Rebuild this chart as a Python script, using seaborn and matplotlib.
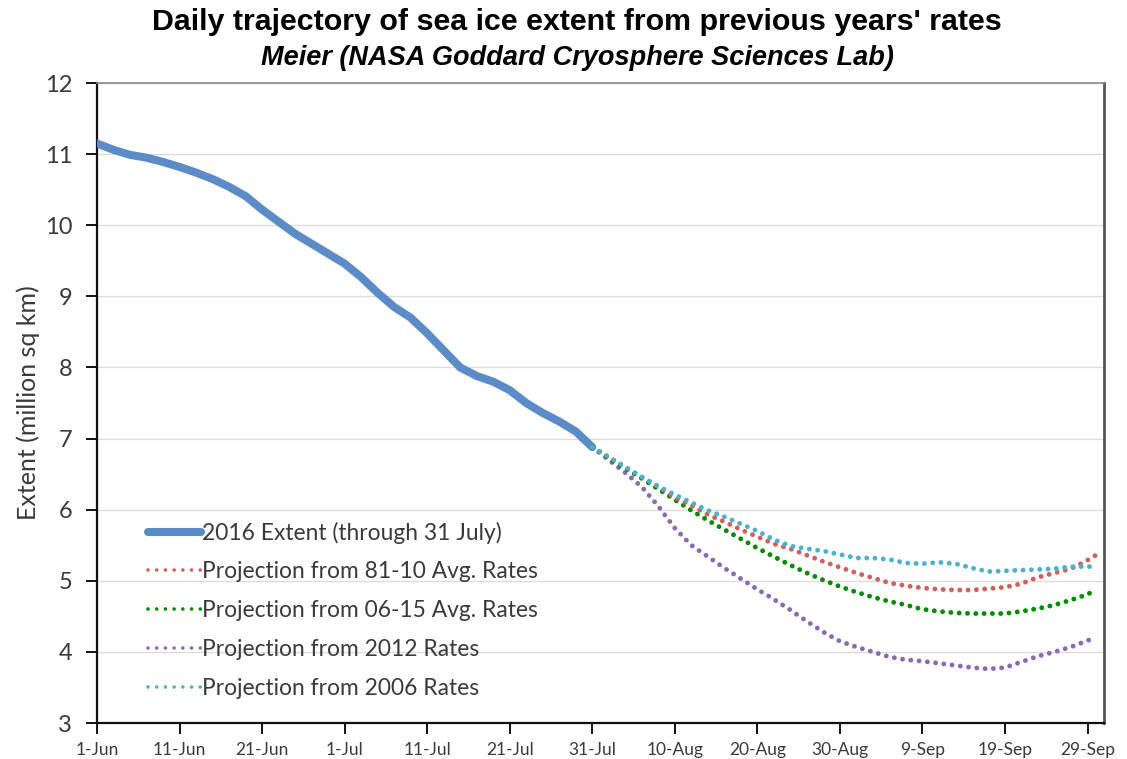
import matplotlib
matplotlib.use("Agg")
import matplotlib.pyplot as plt
from matplotlib.lines import Line2D
import seaborn as sns
import pandas as pd

# Day offsets counted from 1 June 2016
obs_days = [0, 2, 4, 6, 8, 10, 12, 14, 16, 18, 20, 22, 24, 26, 28, 30,
            32, 34, 36, 38, 40, 42, 44, 46, 48, 50, 52, 54, 56, 58, 60]
extent_2016 = [11.15, 11.06, 10.99, 10.95, 10.89, 10.82, 10.74, 10.65, 10.54, 10.41,
               10.22, 10.05, 9.88, 9.74, 9.60, 9.46, 9.27, 9.05, 8.85, 8.70,
               8.48, 8.24, 8.00, 7.88, 7.80, 7.68, 7.50, 7.36, 7.24, 7.10, 6.88]

proj_days = [60, 62, 64, 66, 68, 70, 72, 74, 76, 78, 80, 82, 84, 86, 88, 90,
             92, 94, 96, 98, 100, 102, 104, 106, 108, 110, 112, 114, 116, 118, 120, 121]
proj_8110 = [6.88, 6.74, 6.60, 6.46, 6.32, 6.17, 6.06, 5.93, 5.83, 5.72, 5.62, 5.52,
             5.45, 5.36, 5.27, 5.19, 5.11, 5.04, 4.97, 4.93, 4.90, 4.88, 4.87, 4.87,
             4.89, 4.91, 4.96, 5.05, 5.11, 5.17, 5.29, 5.36]
proj_0615 = [6.88, 6.72, 6.58, 6.44, 6.29, 6.14, 5.99, 5.85, 5.72, 5.59, 5.46, 5.34,
             5.22, 5.11, 5.01, 4.92, 4.84, 4.77, 4.71, 4.66, 4.60, 4.57, 4.55, 4.54,
             4.54, 4.54, 4.57, 4.61, 4.66, 4.73, 4.81, 4.87]
proj_2012 = [6.88, 6.70, 6.52, 6.32, 6.05, 5.74, 5.50, 5.34, 5.18, 5.03, 4.88, 4.74,
             4.59, 4.43, 4.28, 4.15, 4.07, 4.00, 3.93, 3.89, 3.87, 3.84, 3.81, 3.78,
             3.76, 3.78, 3.86, 3.94, 4.00, 4.07, 4.16, 4.20]
proj_2006 = [6.88, 6.74, 6.60, 6.46, 6.33, 6.21, 6.10, 5.99, 5.90, 5.80, 5.70, 5.58,
             5.49, 5.45, 5.42, 5.37, 5.32, 5.32, 5.30, 5.25, 5.24, 5.26, 5.24, 5.18,
             5.13, 5.14, 5.15, 5.16, 5.17, 5.20, 5.20, 5.20]

tick_days = [0, 10, 20, 30, 40, 50, 60, 70, 80, 90, 100, 110, 120]
tick_labels = ["1-Jun", "11-Jun", "21-Jun", "1-Jul", "11-Jul", "21-Jul", "31-Jul",
               "10-Aug", "20-Aug", "30-Aug", "9-Sep", "19-Sep", "29-Sep"]

labels = ["2016 Extent (through 31 July)",
          "Projection from 81-10 Avg. Rates",
          "Projection from 06-15 Avg. Rates",
          "Projection from 2012 Rates",
          "Projection from 2006 Rates"]
colors = {"obs": "#5b8cc7", "8110": "#d0605b", "0615": "#008a00",
          "2012": "#8a6bb0", "2006": "#4bb2cc"}

sns.set_theme(style="white")
plt.rcParams["font.family"] = ["Liberation Sans", "DejaVu Sans"]
BODY = ["Lato", "DejaVu Sans"]
TEXT_COLOR = "#3a3a3a"

fig = plt.figure(figsize=(11.27, 7.59), dpi=100)
ax = fig.add_axes([0.0861, 0.0474, 0.8935, 0.8432])

LW_DOT = 3.5
DOT = (0, (0.01, 1.7))

df_obs = pd.DataFrame({"day": obs_days, "extent": extent_2016})
sns.lineplot(data=df_obs, x="day", y="extent", ax=ax, color=colors["obs"],
             linewidth=5.8, solid_capstyle="round", solid_joinstyle="round", zorder=3)

proj = [("2012", proj_2012), ("0615", proj_0615), ("8110", proj_8110), ("2006", proj_2006)]
for i, (key, vals) in enumerate(proj):
    d = pd.DataFrame({"day": proj_days, "extent": vals})
    sns.lineplot(data=d, x="day", y="extent", ax=ax, color=colors[key],
                 linewidth=LW_DOT, linestyle=DOT, dash_capstyle="round",
                 zorder=4 + i)

ax.set_xlim(0, 122)
ax.set_ylim(3, 12)
ax.set_yticks(range(3, 13))
ax.set_xticks(tick_days)
ax.set_xticklabels(tick_labels)
ax.grid(axis="y", color="#dcdcdc", linewidth=1.0)
ax.set_axisbelow(True)

for side in ("left", "bottom"):
    ax.spines[side].set_color("#111111")
    ax.spines[side].set_linewidth(1.6)
ax.spines["right"].set_color("#555555")
ax.spines["right"].set_linewidth(2.0)
ax.spines["top"].set_color("#8a8a8a")
ax.spines["top"].set_linewidth(1.2)

ax.tick_params(axis="both", direction="out", length=8, width=1.4, color="#111111",
               left=True, bottom=True)
ax.tick_params(axis="y", labelsize=17, labelcolor=TEXT_COLOR, pad=10)
ax.tick_params(axis="x", labelsize=12.5, labelcolor=TEXT_COLOR, pad=6)
for lab in ax.get_xticklabels() + ax.get_yticklabels():
    lab.set_family(BODY)

ax.set_xlabel("")
ax.set_ylabel("Extent (million sq km)", fontsize=18, color=TEXT_COLOR,
              family=BODY, labelpad=3)

fig.text(0.512, 0.971, "Daily trajectory of sea ice extent from previous years' rates",
         ha="center", va="center", fontsize=21.9, fontweight="bold", color="#000000")
fig.text(0.512, 0.924, "Meier (NASA Goddard Cryosphere Sciences Lab)",
         ha="center", va="center", fontsize=19.5, fontweight="bold",
         fontstyle="italic", color="#000000")

handles = [Line2D([], [], color=colors["obs"], linewidth=5.8, solid_capstyle="round")]
for key in ("8110", "0615", "2012", "2006"):
    handles.append(Line2D([], [], color=colors[key], linewidth=2.6,
                          linestyle=(0, (0.01, 2.4)), dash_capstyle="round"))
leg = ax.legend(handles, labels, loc="upper left", bbox_to_anchor=(0.051, 0.315),
                frameon=False, handlelength=2.3, handletextpad=0.05,
                labelspacing=0.78, borderaxespad=0, borderpad=0,
                prop={"family": BODY, "size": 16.4})
for t in leg.get_texts():
    t.set_color(TEXT_COLOR)

fig.savefig("out.png", dpi=100)
